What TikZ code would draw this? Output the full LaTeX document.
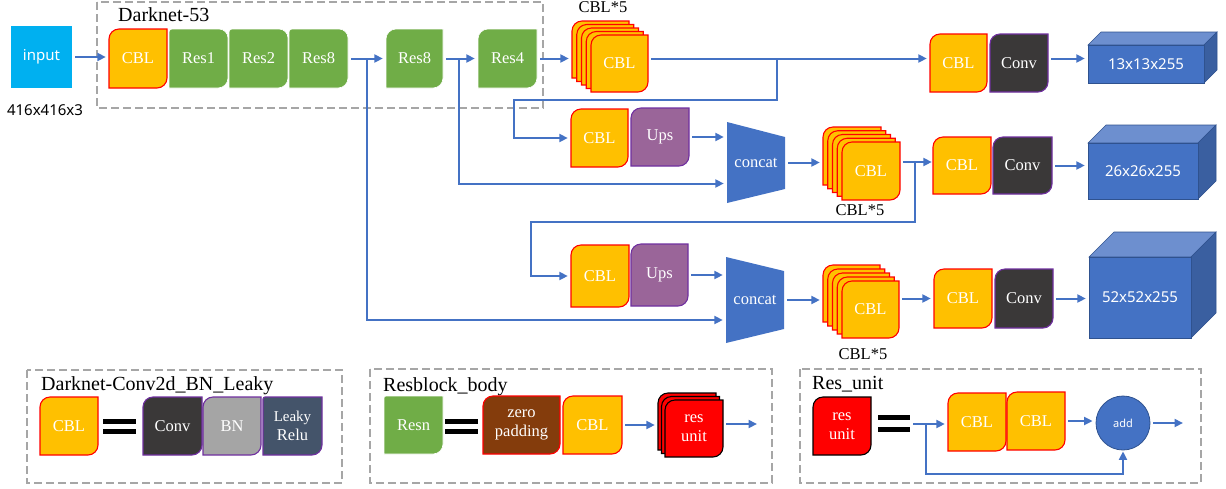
\documentclass[tikz,border=0pt]{standalone}
\usepackage{fontspec}
\setmainfont{Liberation Serif}
\newfontfamily\uisans{Noto Sans}
\usetikzlibrary{arrows.meta}

\definecolor{cblfill}{HTML}{FFC000}
\definecolor{resfill}{HTML}{70AD47}
\definecolor{convfill}{HTML}{3A3838}
\definecolor{upsfill}{HTML}{9A6599}
\definecolor{bnfill}{HTML}{A5A5A5}
\definecolor{leakyfill}{HTML}{44546A}
\definecolor{zpfill}{HTML}{843C0C}
\definecolor{edgepurple}{HTML}{7030A0}
\definecolor{flow}{HTML}{4472C4}
\definecolor{inputfill}{HTML}{00B0F0}
\definecolor{cubetop}{HTML}{6D8FCF}
\definecolor{cubeside}{HTML}{3A5FA0}
\definecolor{cubeedge}{HTML}{2F528F}
\definecolor{framegray}{HTML}{A6A6A6}

\newcommand\blkfont{\fontsize{16.5}{19}\selectfont}
\newcommand\ttlfont{\fontsize{20}{24}\selectfont}
\newcommand\uifont{\uisans\fontsize{15}{18}\selectfont}

% corner radii: top-left / top-right / bottom-right / bottom-left
\def\getradii#1/#2/#3/#4\relax{\def\ra{#1}\def\rb{#2}\def\rc{#3}\def\rd{#4}}
% \blk{name}{left}{top}{right}{bottom}{style}{radii}{label}
\newcommand\blk[8]{%
  \getradii#7\relax
  \path[#6] (#2,#3+\ra) .. controls (#2,#3+0.45*\ra) and (#2+0.45*\ra,#3) .. (#2+\ra,#3)
    -- (#4-\rb,#3) .. controls (#4-0.45*\rb,#3) and (#4,#3+0.45*\rb) .. (#4,#3+\rb)
    -- (#4,#5-\rc) .. controls (#4,#5-0.45*\rc) and (#4-0.45*\rc,#5) .. (#4-\rc,#5)
    -- (#2+\rd,#5) .. controls (#2+0.45*\rd,#5) and (#2,#5-0.45*\rd) .. (#2,#5-\rd) -- cycle;
  \node[blklabel, minimum width={#4-#2}, minimum height={#5-#3}] (#1) at ({(#2+#4)/2},{(#3+#5)/2}) {#8};
}
% \cube{name}{left}{top}{right}{bottom}{depth}{label}
\newcommand\cube[7]{%
  \path[fill=cubetop, draw=cubeedge, line width=0.6pt] (#2,#3) -- (#2+#6,#3-#6) -- (#4+#6,#3-#6) -- (#4,#3) -- cycle;
  \path[fill=cubeside, draw=cubeedge, line width=0.6pt] (#4,#3) -- (#4+#6,#3-#6) -- (#4+#6,#5-#6) -- (#4,#5) -- cycle;
  \path[fill=flow, draw=cubeedge, line width=0.6pt] (#2,#3) rectangle (#4,#5);
  \node[inner sep=0pt, text=white, font=\uifont, minimum width={#4-#2}, minimum height={#5-#3}] (#1) at ({(#2+#4)/2},{(#3+#5)/2}) {#7};
}

\tikzset{
  blklabel/.style={inner sep=0pt, text=white, font=\blkfont, align=center},
  fcbl/.style={fill=cblfill, draw=red, line width=1.1pt},
  fres/.style={fill=resfill, draw=white, line width=0.6pt},
  fconv/.style={fill=convfill, draw=edgepurple, line width=1.1pt},
  fups/.style={fill=upsfill, draw=edgepurple, line width=1.1pt},
  fbn/.style={fill=bnfill, draw=edgepurple, line width=1.1pt},
  fleaky/.style={fill=leakyfill, draw=edgepurple, line width=1.1pt},
  fzero/.style={fill=zpfill, draw=red, line width=1.1pt},
  fresu/.style={fill=red, draw=black, line width=1.1pt},
  flowline/.style={draw=flow, line width=2pt},
  arr/.style={flowline, -{Triangle[length=8.5pt,width=8pt]}, shorten >=3pt, shorten <=3pt},
  dashframe/.style={draw=framegray, line width=1.8pt, dash pattern=on 8pt off 4pt},
  concatshape/.style={fill=flow},
  title/.style={font=\ttlfont, inner sep=0pt, anchor=base west},
  caption/.style={font=\blkfont, inner sep=0pt, anchor=base},
  eqbar/.style={fill=black},
}

\begin{document}
\begin{tikzpicture}[x=1pt, y=-1pt]
\useasboundingbox (0,0) rectangle (1226,488);

% ---------------- backbone ----------------
\node[fill=inputfill, minimum width=61, minimum height=62, inner sep=0pt, text=white, font=\uifont] (input) at (41.5,57) {input};
\node[font=\uifont, inner sep=0pt] (insize) at (45,110) {416x416x3};

\draw[dashframe] (97,2) rectangle (543,108);
\node[title] (dntitle) at (118,21) {Darknet-53};

\blk{cbl0}{109}{29}{167}{88}{fcbl}{10/0/10/0}{CBL}
\blk{res1}{169}{29}{228}{88}{fres}{3/9/10/0}{Res1}
\blk{res2}{229}{29}{288}{88}{fres}{3/9/10/0}{Res2}
\blk{res8a}{289}{29}{348}{88}{fres}{3/9/10/0}{Res8}
\blk{res8b}{386}{29}{443}{88}{fres}{10/0/10/0}{Res8}
\blk{res4}{478}{29}{537}{88}{fres}{10/0/10/0}{Res4}

% first CBL*5 stack
\foreach \k in {0,...,3}{
  \pgfmathsetmacro\L{572+4.75*\k}\pgfmathsetmacro\T{21+3.5*\k}
  \blk{s1-\k}{\L}{\T}{\L+57}{\T+57}{fcbl}{10/0/10/0}{}
}
\blk{s1-4}{591}{35}{648}{92}{fcbl}{10/0/10/0}{CBL}
\node[caption] (s1cap) at (603,12.5) {CBL*5};

% ---------------- head 1 ----------------
\blk{ocbl1}{930}{34}{987}{92}{fcbl}{10/0/10/0}{CBL}
\blk{oconv1}{990}{34}{1048}{92}{fconv}{10/0/10/0}{Conv}
\cube{cube1}{1088}{45}{1204}{83}{13}{13x13x255}

% ---------------- head 2 ----------------
\blk{cbl2}{571}{109}{628}{167}{fcbl}{10/0/10/0}{CBL}
\blk{ups2}{631}{108}{689}{166}{fups}{10/0/10/0}{Ups}
\path[concatshape] (727,122) -- (785,137) -- (785,189) -- (727,203) -- cycle;
\node[inner sep=0pt, minimum width=58, minimum height=81, text=white, font=\blkfont] (cat1) at (756,162.5) {concat};
\foreach \k in {0,...,3}{
  \pgfmathsetmacro\L{823+4.75*\k}\pgfmathsetmacro\T{127+3.75*\k}
  \blk{s2-\k}{\L}{\T}{\L+58}{\T+58}{fcbl}{10/0/10/0}{}
}
\blk{s2-4}{842}{142}{900}{200}{fcbl}{10/0/10/0}{CBL}
\node[caption] (s2cap) at (860,215) {CBL*5};
\blk{ocbl2}{933}{137}{991}{194}{fcbl}{10/0/10/0}{CBL}
\blk{oconv2}{993}{137}{1052}{194}{fconv}{10/0/10/0}{Conv}
\cube{cube2}{1088}{143}{1198}{199}{18}{26x26x255}

% ---------------- head 3 ----------------
\blk{cbl3}{571}{245}{629}{307}{fcbl}{10/0/10/0}{CBL}
\blk{ups3}{631}{244}{688}{306}{fups}{10/0/10/0}{Ups}
\path[concatshape] (726,257) -- (784,271) -- (784,329) -- (726,343) -- cycle;
\node[inner sep=0pt, minimum width=58, minimum height=86, text=white, font=\blkfont] (cat2) at (755,300) {concat};
\foreach \k in {0,...,3}{
  \pgfmathsetmacro\L{823+4.75*\k}\pgfmathsetmacro\T{265+4*\k}
  \blk{s3-\k}{\L}{\T}{\L+57}{\T+57}{fcbl}{10/0/10/0}{}
}
\blk{s3-4}{842}{281}{899}{338}{fcbl}{10/0/10/0}{CBL}
\node[caption] (s3cap) at (863,359) {CBL*5};
\blk{ocbl3}{934}{269}{992}{328}{fcbl}{10/0/10/0}{CBL}
\blk{oconv3}{995}{269}{1053}{328}{fconv}{10/0/10/0}{Conv}
\cube{cube3}{1089}{257}{1191}{338}{25}{52x52x255}

% ---------------- connectors ----------------
\coordinate (j1) at (367,58.5);
\coordinate (j2) at (459,58.5);
\coordinate (j4) at (777,58.5);
\coordinate (k4) at (514,100);
\coordinate (j3) at (915,162);
\coordinate (k3) at (531,222);

\draw[arr] (input.east) -- (input.east -| cbl0.west);
\draw[arr] (res8a.east) -- (res8b.west);
\draw[arr] (res8b.east) -- (res4.west);
\draw[arr] (res4.east) -- (res4.east -| s1-0.west);
\draw[arr] (s1-4.east |- res4.east) -- (res4.east -| ocbl1.west);
\draw[arr] (oconv1.east |- res4.east) -- (res4.east -| cube1.west);

\draw[arr, shorten <=0pt] (j1) |- ([yshift=-20pt]cat2.west);
\draw[arr, shorten <=0pt] (j2) |- ([yshift=-21pt]cat1.west);
\draw[arr, shorten <=0pt] (j4) |- (k4) |- (cbl2.west);

\draw[arr] (ups2.east) -- (ups2.east -| cat1.west);
\draw[arr] (cat1.east) -- (cat1.east -| s2-0.west);
\draw[arr, shorten >=1pt] (s2-4.east |- j3) -- (j3 -| ocbl2.west);
\draw[arr, shorten <=0pt] (j3) |- (k3) |- (cbl3.west);
\draw[arr] (oconv2.east) -- (oconv2.east -| cube2.west);

\draw[arr] (ups3.east) -- (ups3.east -| cat2.west);
\draw[arr] (cat2.east) -- (cat2.east -| s3-0.west);
\draw[arr] (s3-4.east |- ocbl3.west) -- (ocbl3.west);
\draw[arr] (oconv3.east) -- (oconv3.east -| cube3.west);

% ---------------- legend: CBL ----------------
\draw[dashframe] (27,370) rectangle (342,483);
\node[title] (t1) at (41,390) {Darknet-Conv2d\_BN\_Leaky};
\blk{lcbl}{40}{397}{98}{455}{fcbl}{10/0/10/0}{CBL}
\fill[eqbar] (103,419) rectangle (136,424);
\fill[eqbar] (103,429) rectangle (136,434);
\blk{lconv}{143}{397}{202}{455}{fconv}{10/0/10/0}{Conv}
\blk{lbn}{203}{397}{261}{455}{fbn}{10/0/10/0}{BN}
\blk{lleaky}{263}{397}{322}{455}{fleaky}{2/0/10/0}{\fontsize{15}{19}\selectfont Leaky\\Relu}

% ---------------- legend: Resblock_body ----------------
\draw[dashframe] (370,369) rectangle (772,483);
\node[title] (t2) at (383,391) {Resblock\_body};
\blk{lresn}{384}{396}{443}{454}{fres}{2/0/10/0}{Resn}
\fill[eqbar] (445,419) rectangle (478,424);
\fill[eqbar] (445,429) rectangle (478,434);
\blk{lzero}{483}{396}{560}{454}{fzero}{10/0/10/0}{zero\\padding}
\blk{lcblb}{563}{396}{622}{454}{fcbl}{10/0/10/0}{CBL}
\foreach \k in {0,1}{
  \pgfmathsetmacro\L{658+3.5*\k}\pgfmathsetmacro\T{393+3.5*\k}
  \blk{ru-\k}{\L}{\T}{\L+58}{\T+57}{fresu}{10/0/10/0}{}
}
\blk{ru-2}{665}{400}{723}{457}{fresu}{10/0/10/0}{res\\unit}
\coordinate (rbout) at (757,424);
\draw[arr] (lcblb.east) -- (lcblb.east -| ru-0.west);
\draw[arr, shorten >=0pt] (ru-2.east |- rbout) -- (rbout);

% ---------------- legend: Res_unit ----------------
\draw[dashframe] (800,369) rectangle (1201,483);
\node[title] (t3) at (812,389) {Res\_unit};
\blk{lru}{813}{397}{871}{455}{fresu}{10/0/10/0}{res\\unit}
\fill[eqbar] (878,415) rectangle (910,420);
\fill[eqbar] (878,427) rectangle (910,432);
\blk{ucbla}{948}{393}{1006}{451}{fcbl}{10/0/10/0}{CBL}
\blk{ucblb}{1007}{392}{1065}{450}{fcbl}{10/0/10/0}{CBL}
\node[circle, fill=flow, draw=cubeedge, line width=0.8pt, minimum size=54, inner sep=0pt, text=white, font=\uisans\fontsize{11}{13}\selectfont] (add) at (1123,423) {add};
\coordinate (u0) at (913,424);
\coordinate (u1) at (926,424);
\coordinate (u2) at (926,474);
\coordinate (uout) at (1183,423);
\draw[arr, shorten <=0pt] (u0) -- (u0 -| ucbla.west);
\draw[arr, shorten <=0pt, shorten >=1pt] (u1) -- (u2) -| (add.south);
\draw[arr] (ucblb.east) -- (ucblb.east -| add.west);
\draw[arr, shorten >=0pt] (add.east) -- (uout);
\end{tikzpicture}
\end{document}
